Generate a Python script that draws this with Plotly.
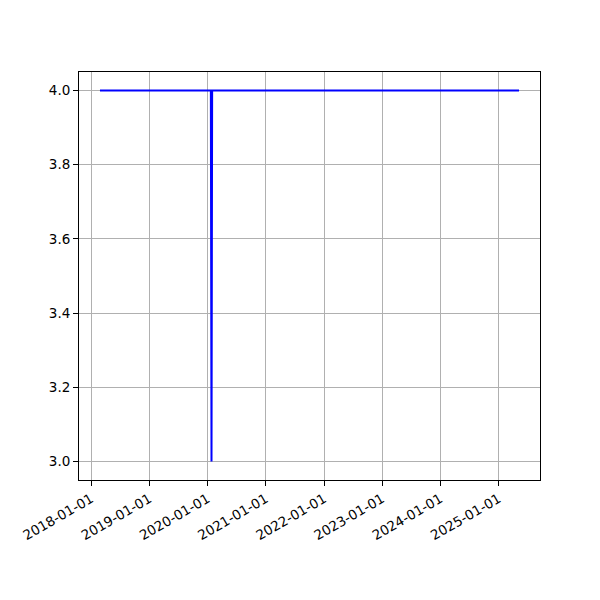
import plotly.graph_objects as go
import pandas as pd

dates = ["2018-02-25", "2020-01-22", "2020-01-26", "2020-01-30", "2025-05-09"]
values = [4.0, 4.0, 3.0, 4.0, 4.0]
tick_dates = ["2018-01-01", "2019-01-01", "2020-01-01", "2021-01-01",
              "2022-01-01", "2023-01-01", "2024-01-01", "2025-01-01"]
y_ticks = [3.0, 3.2, 3.4, 3.6, 3.8, 4.0]

d = pd.to_datetime(dates)
span = d.max() - d.min()
xr = [d.min() - span * 0.05, d.max() + span * 0.05]
vr = max(values) - min(values)
yr = [min(values) - vr * 0.05, max(values) + vr * 0.05]

fig = go.Figure(go.Scatter(x=dates, y=values, mode="lines",
                           line=dict(color="blue", width=2)))

axis_common = dict(showline=True, linecolor="black", linewidth=1, mirror=True,
                   showgrid=True, gridcolor="#b0b0b0", gridwidth=1,
                   ticks="outside", ticklen=5, tickcolor="black", zeroline=False,
                   tickfont=dict(family="DejaVu Sans", size=13.5, color="black"))

fig.update_xaxes(range=xr, tickvals=tick_dates, ticktext=tick_dates,
                 tickangle=-30, **axis_common)
fig.update_yaxes(range=yr, tickvals=y_ticks,
                 ticktext=[f"{v:.1f}" for v in y_ticks], **axis_common)

fig.update_layout(width=600, height=600, plot_bgcolor="white", paper_bgcolor="white",
                  margin=dict(l=67, r=68, t=64, b=128), showlegend=False,
                  font=dict(family="DejaVu Sans"))

fig.write_html("out.html")
